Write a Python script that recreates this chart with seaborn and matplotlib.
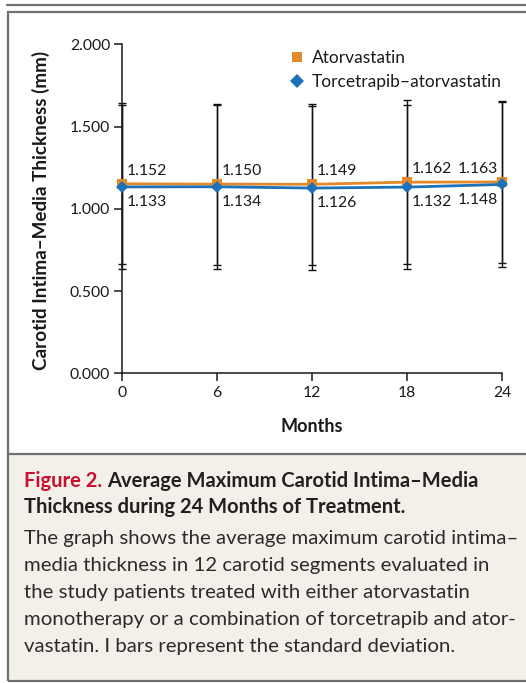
import matplotlib
matplotlib.use("Agg")
import matplotlib.pyplot as plt
import matplotlib.patches as mpatches
from matplotlib.lines import Line2D
import seaborn as sns
import pandas as pd

# ---- data ----
months = [0, 6, 12, 18, 24]
atorvastatin = [1.152, 1.150, 1.149, 1.162, 1.163]
torcetrapib = [1.133, 1.134, 1.126, 1.132, 1.148]
atorvastatin_sd = [0.49, 0.49, 0.49, 0.50, 0.49]
torcetrapib_sd = [0.50, 0.50, 0.50, 0.50, 0.50]
series_names = ["Atorvastatin", "Torcetrapib\u2013atorvastatin"]
y_ticks = [0.0, 0.5, 1.0, 1.5, 2.0]
x_ticks = [0, 6, 12, 18, 24]

ORANGE = "#e3892b"
BLUE = "#1c72b9"
FONT = "Lato"

sns.set_theme(style="white")
plt.rcParams["font.family"] = [FONT, "DejaVu Sans"]

W, H = 526, 683
fig = plt.figure(figsize=(W / 100, H / 100), dpi=100)
renderer = fig.canvas.get_renderer()

def fx(px):
    return px / W

def fy(py):
    return 1 - py / H

def fit_size(text, target_px, weight="normal", base=12.0):
    t = fig.text(0, 0, text, fontsize=base, fontweight=weight)
    w = t.get_window_extent(renderer).width
    t.remove()
    return base * target_px / w

# frame decorations
fig.add_artist(Line2D([fx(7), fx(530)], [fy(4.5), fy(4.5)], color="#707070", lw=1.6,
                      transform=fig.transFigure))
fig.add_artist(mpatches.Rectangle((fx(7.5), fy(681)), fx(530) - fx(7.5), fy(454) - fy(681),
                                  transform=fig.transFigure, facecolor="#f3f0ea",
                                  edgecolor="none", zorder=0))
fig.add_artist(mpatches.Rectangle((fx(7.5), fy(681)), fx(530) - fx(7.5), fy(11.5) - fy(681),
                                  transform=fig.transFigure, facecolor="none",
                                  edgecolor="#707070", lw=1.6, zorder=1))
fig.add_artist(Line2D([fx(7.5), fx(530)], [fy(454), fy(454)], color="#707070", lw=1.6,
                      transform=fig.transFigure))

num_fs = fit_size("2.000", 40)
legend_fs = fit_size(series_names[1], 189)
ylab_fs = fit_size("Carotid Intima\u2013Media Thickness (mm)", 318, "bold")
xlab_fs = fit_size("Months", 62, "bold")
title_fs = fit_size("Figure 2. Average Maximum Carotid Intima\u2013Media", 452, "bold")
body_fs = fit_size("The graph shows the average maximum carotid intima\u2013", 493)

# axes
ax = fig.add_axes([fx(122), fy(373.3), fx(502.3) - fx(122), fy(44.3) - fy(373.3)])
ax.set_facecolor("none")

df = pd.DataFrame({
    "Months": months * 2,
    "CIMT": atorvastatin + torcetrapib,
    "Group": [series_names[0]] * len(months) + [series_names[1]] * len(months),
})

# error bars
ax.errorbar(months, atorvastatin, yerr=atorvastatin_sd, fmt="none", ecolor="#111111",
            elinewidth=1.0, capsize=2.6, capthick=1.0, zorder=2, clip_on=False)
ax.errorbar(months, torcetrapib, yerr=torcetrapib_sd, fmt="none", ecolor="#111111",
            elinewidth=1.0, capsize=2.6, capthick=1.0, zorder=2, clip_on=False)

sns.lineplot(data=df, x="Months", y="CIMT", hue="Group", style="Group",
             palette={series_names[0]: ORANGE, series_names[1]: BLUE},
             markers={series_names[0]: "s", series_names[1]: "D"},
             dashes=False, linewidth=2.0, markersize=6.5, markeredgewidth=0,
             ax=ax, legend=False, zorder=3, clip_on=False)
for ln in ax.lines:
    ln.set_clip_on(False)

ax.set_xlim(0, 24)
ax.set_ylim(0, 2)
ax.set_xticks(x_ticks)
ax.set_xticklabels([str(m) for m in x_ticks])
ax.set_yticks(y_ticks)
ax.set_yticklabels([f"{v:.3f}" for v in y_ticks])
ax.set_xlabel("")
ax.set_ylabel("")
for s in ["top", "right"]:
    ax.spines[s].set_visible(False)
for s in ["left", "bottom"]:
    ax.spines[s].set_color("#1a1a1a")
    ax.spines[s].set_linewidth(1.1)
ax.tick_params(axis="both", which="major", direction="out", length=6, width=1.1,
               color="#1a1a1a", labelsize=num_fs, labelcolor="#1a1a1a")
ax.tick_params(axis="y", pad=2.5, left=True)
ax.tick_params(axis="x", pad=3.5, bottom=True)

# value labels
for i, m in enumerate(months):
    if m == 24:
        ha, dx = "right", -3
    else:
        ha, dx = "left", 3.5
    ax.annotate(f"{atorvastatin[i]:.3f}", (m, atorvastatin[i]), xytext=(dx, 9.5),
                textcoords="offset points", ha=ha, va="center", fontsize=num_fs,
                color="#1a1a1a", annotation_clip=False)
    ax.annotate(f"{torcetrapib[i]:.3f}", (m, torcetrapib[i]), xytext=(dx, -11),
                textcoords="offset points", ha=ha, va="center", fontsize=num_fs,
                color="#1a1a1a", annotation_clip=False)

# legend
handles = [
    Line2D([], [], linestyle="none", marker="s", markersize=7, color=ORANGE, markeredgewidth=0),
    Line2D([], [], linestyle="none", marker="D", markersize=7, color=BLUE, markeredgewidth=0),
]
ax.legend(handles, series_names, loc="upper left",
          bbox_to_anchor=(fx(290), fy(50)), bbox_transform=fig.transFigure,
          frameon=False, fontsize=legend_fs, handlelength=0.8, handletextpad=0.45,
          labelspacing=0.45, borderpad=0, borderaxespad=0, labelcolor="#1a1a1a")

# axis labels
fig.text(fx(40.5), fy(210), "Carotid Intima\u2013Media Thickness (mm)", rotation=90,
         ha="center", va="center", fontsize=ylab_fs, fontweight="bold", color="#1a1a1a")
fig.text(fx(312), fy(427), "Months", ha="center", va="center", fontsize=xlab_fs,
         fontweight="bold", color="#1a1a1a")

# caption
t1 = fig.text(fx(24.5), fy(486.7), "Figure 2.", ha="left", va="baseline", fontsize=title_fs,
              fontweight="bold", color="#c8102e")
fig.canvas.draw()
bb = t1.get_window_extent(renderer)
fig.text((bb.x1) / W + fx(4.5), fy(486.7), "Average Maximum Carotid Intima\u2013Media",
         ha="left", va="baseline", fontsize=title_fs, fontweight="bold", color="#231f20")
fig.text(fx(24.5), fy(512.7), "Thickness during 24 Months of Treatment.", ha="left",
         va="baseline", fontsize=title_fs, fontweight="bold", color="#231f20")
body = [
    "The graph shows the average maximum carotid intima\u2013",
    "media thickness in 12 carotid segments evaluated in",
    "the study patients treated with either atorvastatin",
    "monotherapy or a combination of torcetrapib and ator-",
    "vastatin. I bars represent the standard deviation.",
]
for k, line in enumerate(body):
    fig.text(fx(24.5), fy(544 + k * 26.9), line, ha="left", va="baseline", fontsize=body_fs,
             color="#2b2b2b")

fig.savefig("out.png", dpi=100)
